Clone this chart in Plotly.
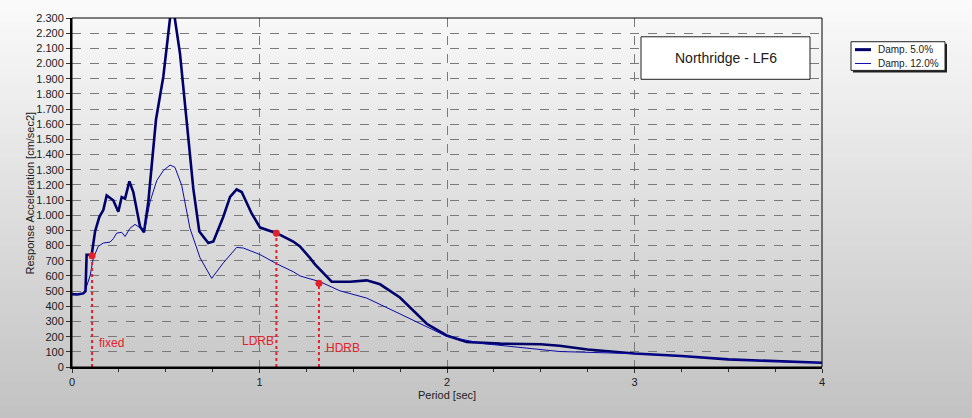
import plotly.graph_objects as go

# ---------------- data ----------------
period_5 = [0, 0.03, 0.06, 0.072, 0.078, 0.105, 0.123, 0.146, 0.167, 0.185, 0.22, 0.247, 0.265, 0.283,
            0.306, 0.327, 0.363, 0.384, 0.407, 0.43, 0.448, 0.487, 0.523, 0.535, 0.548, 0.576, 0.603,
            0.626, 0.647, 0.679, 0.727, 0.754, 0.807, 0.843, 0.878, 0.905, 0.958, 1.003, 1.092, 1.18,
            1.216, 1.269, 1.296, 1.385, 1.483, 1.572, 1.643, 1.749, 1.892, 1.998, 2.105, 2.283, 2.5,
            2.6, 2.75, 3.0, 3.25, 3.5, 3.75, 4.0]
acc_5 = [480, 478, 485, 500, 740, 740, 893, 990, 1034, 1131, 1099, 1023, 1120, 1110,
         1223, 1153, 925, 888, 1088, 1414, 1631, 1913, 2300, 2360, 2300, 2065, 1720,
         1435, 1175, 893, 817, 827, 990, 1121, 1170, 1153, 1012, 919, 882, 827,
         795, 719, 676, 562, 562, 571, 545, 458, 285, 208, 165, 154, 150,
         140, 115, 89, 72, 50, 37, 28]

period_12 = [0, 0.03, 0.06, 0.075, 0.096, 0.114, 0.14, 0.167, 0.203, 0.22, 0.238, 0.265, 0.283, 0.309,
             0.336, 0.372, 0.389, 0.416, 0.452, 0.487, 0.523, 0.549, 0.585, 0.629, 0.683, 0.745, 0.807,
             0.878, 0.914, 1.003, 1.092, 1.18, 1.216, 1.323, 1.429, 1.572, 1.749, 1.892, 1.998, 2.195,
             2.462, 2.6, 2.8, 3.0, 3.25, 3.5, 3.75, 4.0]
acc_12 = [480, 478, 485, 520, 600, 719, 795, 817, 823, 845, 882, 888, 860, 914,
          940, 910, 914, 1088, 1229, 1294, 1331, 1316, 1197, 914, 719, 584, 686,
          788, 784, 741, 680, 628, 600, 562, 502, 454, 350, 263, 202, 154,
          122, 102, 95, 88, 72, 50, 37, 28]

marker_labels = ["fixed", "LDRB", "HDRB"]
marker_period = [0.107, 1.09, 1.317]
marker_acc = [733, 882, 552]
label_period = [0.133, 0.895, 1.344]
label_acc = [155, 172, 125]

series_names = ["Damp. 5.0%", "Damp. 12.0%"]
chart_title = "Northridge - LF6"

# ---------------- figure ----------------
W, H = 972, 418
ML, MR, MT, MB = 72, 150, 14, 51
PW, PH = W - ML - MR, H - MT - MB


def px(x):
    return (x - ML) / PW


def py(y):
    return (H - MB - y) / PH


THICK = "#00006a"
THIN = "#0a0aa8"
RED = "#e4202a"
FONT = "Liberation Sans, Arial, sans-serif"

fig = go.Figure()

fig.add_trace(go.Scatter(x=period_5, y=acc_5, mode="lines", name=series_names[0],
                         line=dict(color=THICK, width=2.6), showlegend=False))
fig.add_trace(go.Scatter(x=period_12, y=acc_12, mode="lines", name=series_names[1],
                         line=dict(color=THIN, width=1), showlegend=False))

for xp, yp in zip(marker_period, marker_acc):
    fig.add_trace(go.Scatter(x=[xp, xp], y=[0, yp], mode="lines",
                             line=dict(color=RED, width=2, dash="dot"),
                             showlegend=False, hoverinfo="skip"))
fig.add_trace(go.Scatter(x=marker_period, y=marker_acc, mode="markers",
                         marker=dict(color=RED, size=7), showlegend=False, cliponaxis=False))

for txt, xl, yl in zip(marker_labels, label_period, label_acc):
    fig.add_annotation(x=xl, y=yl, xref="x", yref="y", text=txt, showarrow=False,
                       xanchor="left", yanchor="middle",
                       font=dict(family=FONT, size=12, color=RED))

# background gradient
shapes = []
n = 70
top = (250, 250, 250)
bot = (194, 194, 194)
for i in range(n):
    y0p = H * i / n
    y1p = H * (i + 1) / n + 1
    t = (i + 0.5) / n
    c = tuple(int(round(top[k] + (bot[k] - top[k]) * t)) for k in range(3))
    shapes.append(dict(type="rect", xref="paper", yref="paper", layer="below",
                       x0=px(-5), x1=px(W + 5), y0=py(y1p), y1=py(y0p - (8 if i == 0 else 0)),
                       line=dict(width=0), fillcolor="rgb(%d,%d,%d)" % c))

# plot border (top/right)
shapes.append(dict(type="rect", xref="paper", yref="paper", x0=0, x1=1, y0=0, y1=1,
                   line=dict(color="black", width=1), layer="above"))

# title box
shapes.append(dict(type="rect", xref="paper", yref="paper",
                   x0=px(641), x1=px(810), y0=py(76), y1=py(33),
                   line=dict(color="#202020", width=1), fillcolor="white", layer="above"))
fig.add_annotation(x=px(725.5), y=py(54.5), xref="paper", yref="paper", text=chart_title,
                   showarrow=False, xanchor="center", yanchor="middle",
                   font=dict(family=FONT, size=14, color="#202020"))

# legend (drawn manually)
shapes.append(dict(type="rect", xref="paper", yref="paper",
                   x0=px(853), x1=px(947), y0=py(69), y1=py(40),
                   line=dict(width=0), fillcolor="#202020"))
shapes.append(dict(type="rect", xref="paper", yref="paper",
                   x0=px(851), x1=px(945), y0=py(67), y1=py(38),
                   line=dict(color="#202020", width=1), fillcolor="white"))
shapes.append(dict(type="line", xref="paper", yref="paper",
                   x0=px(855), x1=px(871), y0=py(46), y1=py(46),
                   line=dict(color=THICK, width=3)))
shapes.append(dict(type="line", xref="paper", yref="paper",
                   x0=px(855), x1=px(871), y0=py(60), y1=py(60),
                   line=dict(color=THIN, width=1)))
for name, yy in zip(series_names, [46, 60]):
    fig.add_annotation(x=px(876), y=py(yy), xref="paper", yref="paper", text=name,
                       showarrow=False, xanchor="left", yanchor="middle",
                       font=dict(family=FONT, size=10, color="#202020"))

# axis titles
fig.add_annotation(x=0.5, y=py(395), xref="paper", yref="paper", text="Period [sec]",
                   showarrow=False, xanchor="center", yanchor="middle",
                   font=dict(family=FONT, size=11, color="#202020"))
fig.add_annotation(x=px(30), y=py(191.5), xref="paper", yref="paper",
                   text="Response Acceleration [cm/sec2]", textangle=-90,
                   showarrow=False, xanchor="center", yanchor="middle",
                   font=dict(family=FONT, size=11, color="#202020"))

fig.update_layout(
    width=W, height=H,
    margin=dict(l=ML, r=MR, t=MT, b=MB, pad=0),
    paper_bgcolor="rgb(248,248,248)",
    plot_bgcolor="rgba(0,0,0,0)",
    separators=",.",
    shapes=shapes,
    showlegend=False,
    font=dict(family=FONT, size=11, color="#202020"),
)

fig.update_xaxes(
    range=[0, 4], dtick=1, tick0=0, showgrid=True, gridcolor="#7a7a7a", griddash="dash",
    gridwidth=1, zeroline=False, showline=True, linecolor="black", linewidth=2,
    ticks="outside", ticklen=4, tickcolor="#333", tickfont=dict(family=FONT, size=11, color="#202020"),
    minor=dict(dtick=0.25, tick0=0, ticks="outside", ticklen=3, tickcolor="#333", showgrid=False),
)
fig.update_yaxes(
    range=[0, 2300], dtick=100, tick0=0, tickformat=",", showgrid=True, gridcolor="#7a7a7a",
    griddash="dash", gridwidth=1, zeroline=False, showline=True, linecolor="black", linewidth=2,
    ticks="outside", ticklen=4, tickcolor="#333", tickfont=dict(family=FONT, size=11, color="#202020"),
)

fig.write_html("out.html")
